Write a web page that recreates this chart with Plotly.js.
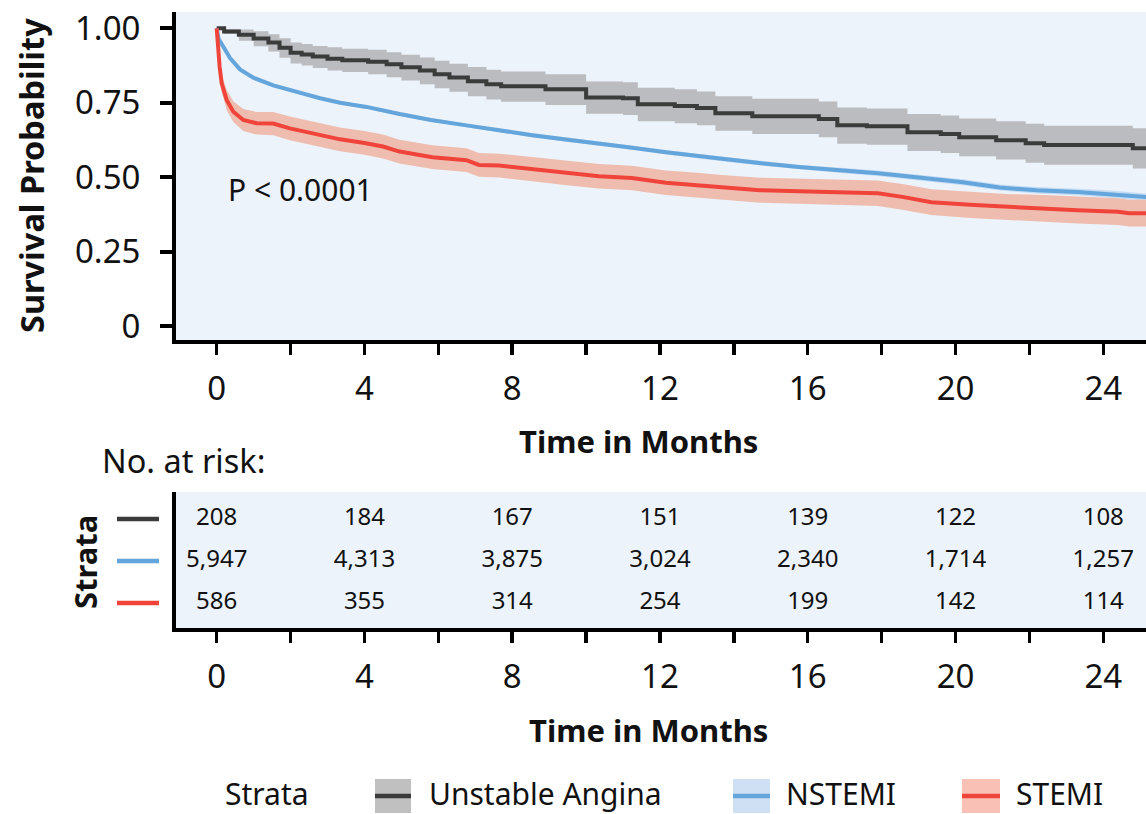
<!DOCTYPE html>
<html>
<head>
<meta charset="utf-8">
<script src="https://cdn.plot.ly/plotly-3.0.1.min.js"></script>
<style>
  html, body { margin: 0; padding: 0; background: #ffffff; }
  #chart { width: 1146px; height: 814px; }
</style>
</head>
<body>
<div id="chart"></div>
<script>
// ---------------- DATA ----------------
const groupNames = ['Unstable Angina', 'NSTEMI', 'STEMI'];

// Unstable Angina (step curve)
const uaTime  = [0, 0.2, 0.6, 1.0, 1.4, 1.7, 2.0, 2.3, 2.6, 3.0, 3.4, 4.1, 4.6, 5.0, 5.5, 5.9, 6.3, 6.8, 7.3, 7.7, 8.9, 10.0, 11.0, 11.4, 12.4, 13.0, 13.5, 14.5, 16.3, 16.8, 17.6, 18.7, 19.6, 20.1, 21.1, 21.9, 22.4, 24.8, 25.16];
const uaSurv  = [1.000, 0.989, 0.978, 0.966, 0.952, 0.935, 0.918, 0.912, 0.905, 0.898, 0.893, 0.888, 0.879, 0.869, 0.858, 0.846, 0.835, 0.822, 0.812, 0.805, 0.795, 0.768, 0.765, 0.745, 0.739, 0.732, 0.715, 0.705, 0.695, 0.674, 0.671, 0.651, 0.645, 0.634, 0.624, 0.614, 0.608, 0.597, 0.597];
const uaLower = [1.000, 0.981, 0.958, 0.940, 0.922, 0.901, 0.882, 0.875, 0.867, 0.858, 0.853, 0.846, 0.836, 0.825, 0.812, 0.799, 0.787, 0.772, 0.761, 0.753, 0.742, 0.713, 0.709, 0.688, 0.681, 0.674, 0.656, 0.645, 0.634, 0.612, 0.609, 0.588, 0.581, 0.570, 0.559, 0.548, 0.542, 0.529, 0.529];
const uaUpper = [1.000, 0.997, 0.996, 0.990, 0.980, 0.967, 0.952, 0.947, 0.941, 0.936, 0.931, 0.928, 0.920, 0.911, 0.902, 0.891, 0.881, 0.870, 0.861, 0.855, 0.846, 0.821, 0.819, 0.800, 0.795, 0.788, 0.772, 0.763, 0.754, 0.734, 0.731, 0.712, 0.707, 0.697, 0.688, 0.679, 0.673, 0.664, 0.664];

// NSTEMI
const nsTime  = [0, 0.05, 0.18, 0.36, 0.63, 0.99, 1.53, 2.16, 2.8, 3.34, 4.05, 4.95, 5.8, 6.76, 7.6, 8.54, 9.4, 10.35, 11.2, 12.16, 13.0, 13.95, 14.8, 15.76, 16.8, 17.9, 19.0, 20.2, 21.2, 22.2, 23.3, 24.2, 25.16];
const nsSurv  = [1.000, 0.965, 0.938, 0.900, 0.862, 0.834, 0.808, 0.786, 0.765, 0.750, 0.736, 0.712, 0.692, 0.674, 0.657, 0.641, 0.627, 0.614, 0.600, 0.584, 0.571, 0.557, 0.546, 0.534, 0.524, 0.513, 0.499, 0.483, 0.465, 0.456, 0.450, 0.443, 0.433];
const nsLower = [1.000, 0.961, 0.934, 0.896, 0.857, 0.829, 0.803, 0.781, 0.760, 0.744, 0.730, 0.706, 0.686, 0.668, 0.651, 0.634, 0.620, 0.607, 0.593, 0.577, 0.563, 0.549, 0.538, 0.526, 0.515, 0.504, 0.490, 0.473, 0.455, 0.445, 0.439, 0.431, 0.421];
const nsUpper = [1.000, 0.969, 0.942, 0.904, 0.867, 0.839, 0.813, 0.791, 0.770, 0.756, 0.742, 0.718, 0.698, 0.680, 0.663, 0.648, 0.634, 0.621, 0.607, 0.591, 0.579, 0.565, 0.554, 0.542, 0.533, 0.522, 0.508, 0.493, 0.475, 0.467, 0.461, 0.455, 0.445];

// STEMI
const stTime  = [0, 0.03, 0.08, 0.135, 0.2, 0.27, 0.45, 0.72, 1.08, 1.53, 1.98, 2.61, 3.34, 4.0, 4.5, 4.95, 5.84, 6.76, 7.1, 7.65, 8.8, 9.6, 10.35, 11.24, 12.16, 13.0, 13.6, 14.7, 15.76, 16.8, 17.9, 18.6, 19.35, 20.4, 21.5, 22.4, 23.3, 24.4, 24.7, 25.16];
const stSurv  = [1.000, 0.930, 0.870, 0.815, 0.790, 0.759, 0.720, 0.692, 0.681, 0.680, 0.664, 0.647, 0.627, 0.615, 0.603, 0.586, 0.567, 0.557, 0.541, 0.539, 0.523, 0.512, 0.503, 0.497, 0.481, 0.473, 0.466, 0.456, 0.453, 0.450, 0.446, 0.433, 0.416, 0.407, 0.399, 0.395, 0.389, 0.384, 0.379, 0.379];
const stLower = [1.000, 0.910, 0.845, 0.785, 0.758, 0.725, 0.685, 0.655, 0.643, 0.641, 0.624, 0.607, 0.587, 0.575, 0.563, 0.546, 0.527, 0.517, 0.501, 0.499, 0.482, 0.471, 0.462, 0.456, 0.440, 0.431, 0.424, 0.414, 0.411, 0.407, 0.403, 0.390, 0.373, 0.363, 0.355, 0.350, 0.344, 0.339, 0.334, 0.334];
const stUpper = [1.000, 0.950, 0.895, 0.845, 0.822, 0.793, 0.755, 0.729, 0.719, 0.719, 0.704, 0.687, 0.667, 0.655, 0.643, 0.626, 0.607, 0.597, 0.581, 0.579, 0.564, 0.553, 0.544, 0.538, 0.522, 0.515, 0.508, 0.498, 0.495, 0.493, 0.489, 0.476, 0.459, 0.451, 0.443, 0.440, 0.434, 0.429, 0.424, 0.424];

// Number at risk table
const riskTimes  = [0, 4, 8, 12, 16, 20, 24];
const uaRisk     = [208, 184, 167, 151, 139, 122, 108];
const nsRisk     = [5947, 4313, 3875, 3024, 2340, 1714, 1257];
const stRisk     = [586, 355, 314, 254, 199, 142, 114];

const xTickVals  = [0, 2, 4, 6, 8, 10, 12, 14, 16, 18, 20, 22, 24];
const xTickText  = ['0', '', '4', '', '8', '', '12', '', '16', '', '20', '', '24'];
const yTickVals  = [0, 0.25, 0.5, 0.75, 1];
const yTickText  = ['0', '0.25', '0.50', '0.75', '1.00'];
const pValueText = 'P < 0.0001';

// ---------------- STYLE ----------------
const FONT = '"Noto Sans", "Open Sans", sans-serif';
const TXT = '#111111';
const lineColors = ['#3b3b3b', '#64a5dc', '#f0443a'];
const bandColors = ['#babcc0', '#c6dcf3', '#eebdb0'];
const legendBoxColors = ['#c0c0c0', '#cfe0f5', '#f9c0b5'];
const BG = '#ecf3fb';

function band(t, lo, hi, color, shape) {
  return [
    { x: t, y: lo, xaxis: 'x', yaxis: 'y', mode: 'lines', line: { width: 0, shape: shape, color: color },
      hoverinfo: 'skip', showlegend: false },
    { x: t, y: hi, xaxis: 'x', yaxis: 'y', mode: 'lines', line: { width: 0, shape: shape, color: color },
      fill: 'tonexty', fillcolor: color, hoverinfo: 'skip', showlegend: false }
  ];
}
function curve(t, s, color, shape, name) {
  return { x: t, y: s, xaxis: 'x', yaxis: 'y', mode: 'lines', name: name,
           line: { width: 4, shape: shape, color: color }, showlegend: false };
}
const fmt = v => v.toLocaleString('en-US');

const traces = [
  ...band(uaTime, uaLower, uaUpper, bandColors[0], 'hv'),
  ...band(nsTime, nsLower, nsUpper, bandColors[1], 'linear'),
  ...band(stTime, stLower, stUpper, bandColors[2], 'linear'),
  curve(uaTime, uaSurv, lineColors[0], 'hv', groupNames[0]),
  curve(nsTime, nsSurv, lineColors[1], 'linear', groupNames[1]),
  curve(stTime, stSurv, lineColors[2], 'linear', groupNames[2]),
];

const riskRows = [uaRisk, nsRisk, stRisk];
riskRows.forEach((row, i) => {
  traces.push({
    x: riskTimes, y: riskTimes.map(() => 3 - i), text: row.map(fmt),
    xaxis: 'x2', yaxis: 'y2', mode: 'text', textposition: 'middle center',
    textfont: { family: FONT, size: 24, color: TXT }, hoverinfo: 'skip', showlegend: false
  });
});

// geometry helpers (pixel -> paper), margins l=176, t=0, b=0, r=0
const W = 1146, H = 814, L = 176;
const px = p => (p - L) / (W - L);
const py = p => (H - p) / H;

const xAxisCommon = {
  range: [-1.102, 25.157], tickmode: 'array', tickvals: xTickVals, ticktext: xTickText,
  ticks: 'outside', ticklen: 11, tickwidth: 3.5, tickcolor: '#000',
  showline: true, linewidth: 4, linecolor: '#000', showgrid: false, zeroline: false,
  tickfont: { family: FONT, size: 33, color: TXT }, ticklabelstandoff: 5, fixedrange: true
};

const annotations = [
  { text: pValueText, xref: 'x', yref: 'y', x: 0.25, y: 0.457, xanchor: 'left', yanchor: 'middle',
    showarrow: false, font: { family: FONT, size: 30, color: TXT } },
  { text: '<b>Survival Probability</b>', xref: 'paper', yref: 'paper', x: px(31), y: py(176),
    textangle: -90, xanchor: 'center', yanchor: 'middle', showarrow: false,
    font: { family: FONT, size: 32.5, color: TXT } },
  { text: '<b>Time in Months</b>', xref: 'paper', yref: 'paper', x: px(638), y: py(441),
    xanchor: 'center', yanchor: 'middle', showarrow: false, font: { family: FONT, size: 31, color: TXT } },
  { text: 'No. at risk:', xref: 'paper', yref: 'paper', x: px(100), y: py(460),
    xanchor: 'left', yanchor: 'middle', showarrow: false, font: { family: FONT, size: 32.5, color: TXT } },
  { text: '<b>Strata</b>', xref: 'paper', yref: 'paper', x: px(85), y: py(562),
    textangle: -90, xanchor: 'center', yanchor: 'middle', showarrow: false,
    font: { family: FONT, size: 31, color: TXT } },
  { text: '<b>Time in Months</b>', xref: 'paper', yref: 'paper', x: px(648), y: py(730),
    xanchor: 'center', yanchor: 'middle', showarrow: false, font: { family: FONT, size: 31, color: TXT } },
  { text: 'Strata', xref: 'paper', yref: 'paper', x: px(223), y: py(793),
    xanchor: 'left', yanchor: 'middle', showarrow: false, font: { family: FONT, size: 30, color: TXT } },
];

const shapes = [];
// strata keys in the risk table
const rowPix = [519, 561, 603];
rowPix.forEach((r, i) => {
  shapes.push({ type: 'line', xref: 'paper', yref: 'paper', x0: px(117), x1: px(159), y0: py(r), y1: py(r),
                line: { color: lineColors[i], width: 4.5 } });
});
// bottom legend
const legBox = [[375, 411], [733, 770], [962, 1000]];
const legText = [427, 784, 1014];
legBox.forEach((b, i) => {
  shapes.push({ type: 'rect', xref: 'paper', yref: 'paper', x0: px(b[0]), x1: px(b[1]), y0: py(813), y1: py(779),
                fillcolor: legendBoxColors[i], line: { width: 0 } });
  shapes.push({ type: 'line', xref: 'paper', yref: 'paper', x0: px(b[0]), x1: px(b[1]), y0: py(796), y1: py(796),
                line: { color: lineColors[i], width: 4.5 } });
  annotations.push({ text: groupNames[i], xref: 'paper', yref: 'paper', x: px(legText[i]), y: py(793),
    xanchor: 'left', yanchor: 'middle', showarrow: false, font: { family: FONT, size: 30, color: TXT } });
});

const layout = {
  width: W, height: H,
  margin: { l: L, r: 0, t: 0, b: 0, pad: 0 },
  paper_bgcolor: '#ffffff', plot_bgcolor: BG,
  font: { family: FONT, color: TXT },
  showlegend: false,
  xaxis: Object.assign({}, xAxisCommon, { domain: [0, 1], anchor: 'y' }),
  yaxis: {
    domain: [py(340), py(12)], anchor: 'x', range: [-0.047, 1.0548],
    tickmode: 'array', tickvals: yTickVals, ticktext: yTickText,
    ticks: 'outside', ticklen: 12, tickwidth: 4, tickcolor: '#000',
    showline: true, linewidth: 4, linecolor: '#000', showgrid: false, zeroline: false,
    tickfont: { family: FONT, size: 33, color: TXT }, ticklabelstandoff: 13, fixedrange: true
  },
  xaxis2: Object.assign({}, xAxisCommon, { domain: [0, 1], anchor: 'y2' }),
  yaxis2: {
    domain: [py(628), py(492)], anchor: 'x2', range: [0.405, 3.643],
    showticklabels: false, ticks: '', showline: true, linewidth: 4, linecolor: '#000',
    showgrid: false, zeroline: false, fixedrange: true
  },
  annotations: annotations,
  shapes: shapes
};

Plotly.newPlot('chart', traces, layout, { displayModeBar: false, staticPlot: true });
</script>
</body>
</html>
